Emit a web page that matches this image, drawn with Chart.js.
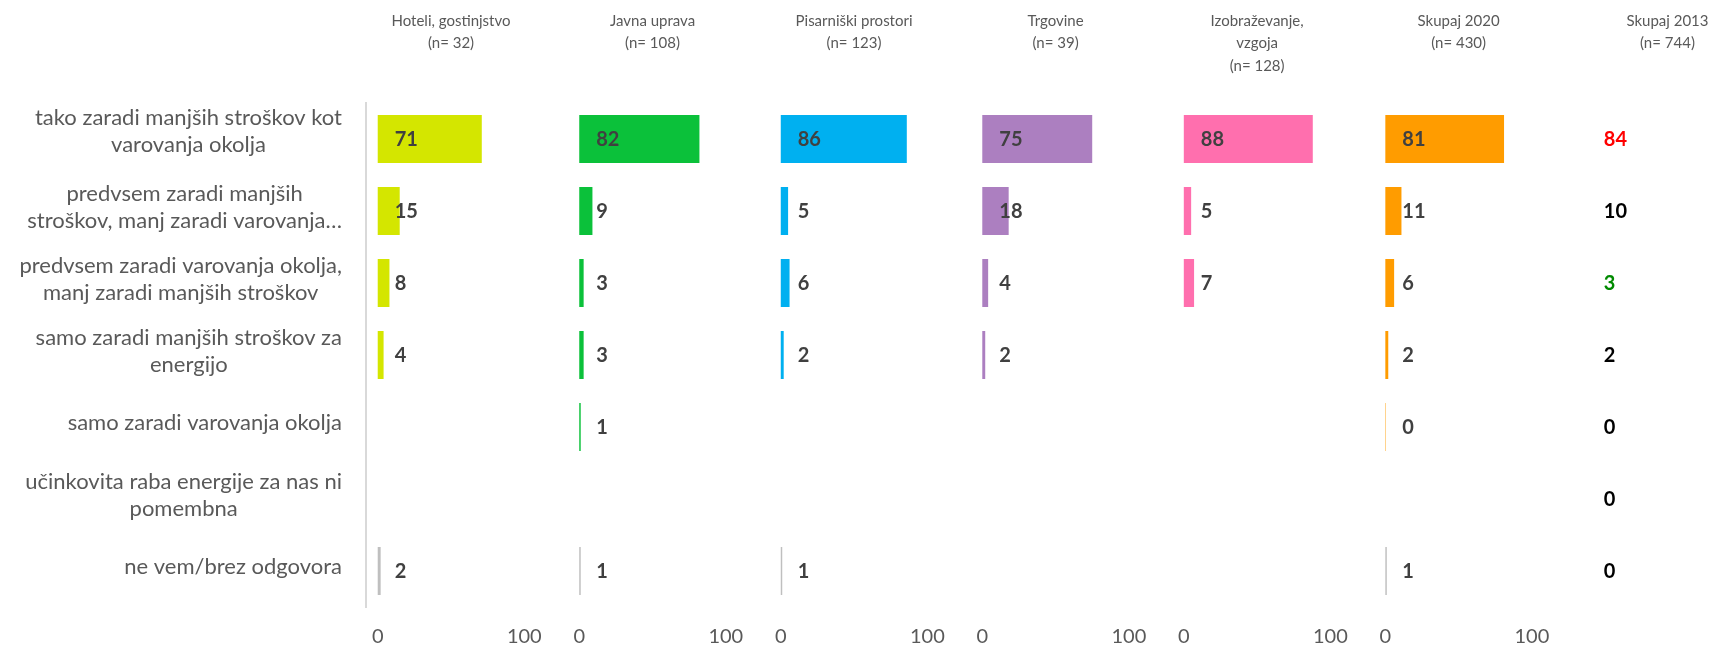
<!DOCTYPE html>
<html>
<head>
<meta charset="utf-8">
<script src="https://cdn.jsdelivr.net/npm/chart.js@4.4.0/dist/chart.umd.min.js"></script>
<style>
  html, body { margin: 0; padding: 0; background: #fff; }
  #wrap { width: 1713px; height: 647px; position: relative; }
</style>
</head>
<body>
<div id="wrap"><canvas id="chart"></canvas></div>
<script>
// categories (multi-line, as in the original)
const categories = [
    ["tako zaradi manjših stroškov kot", "varovanja okolja"],
    ["predvsem zaradi manjših", "stroškov, manj zaradi varovanja…"],
    ["predvsem zaradi varovanja okolja,", "manj zaradi manjših stroškov"],
    ["samo zaradi manjših stroškov za", "energijo"],
    ["samo zaradi varovanja okolja"],
    ["učinkovita raba energije za nas ni", "pomembna"],
    ["ne vem/brez odgovora"]
];

const panelTitles = [
    ["Hoteli, gostinjstvo", "(n= 32)"],
    ["Javna uprava", "(n= 108)"],
    ["Pisarniški prostori", "(n= 123)"],
    ["Trgovine", "(n= 39)"],
    ["Izobraževanje,", "vzgoja", "(n= 128)"],
    ["Skupaj 2020", "(n= 430)"],
    ["Skupaj 2013", "(n= 744)"]
];

// values in %
const hoteli      = [71, 15, 8, 4, null, null, 2];
const javnaUprava = [82, 9, 3, 3, 1, null, 1];
const pisarne     = [86, 5, 6, 2, null, null, 1];
const trgovine    = [75, 18, 4, 2, null, null, null];
const izobrazev   = [88, 5, 7, null, null, null, null];
const skupaj2020  = [81, 11, 6, 2, 0.3, null, 1];
const skupaj2013  = [84, 10, 3, 2, 0, 0, 0];

const tickValues = [0, 100];

// styling
const panelColors = ['#d4e600', '#0bc13a', '#00b0f0', '#ac7fc0', '#ff6fae', '#ff9c00', 'rgba(0,0,0,0)'];
const greyColor = '#bfbfbf';
const colors2013 = ['#ff0000', '#000000', '#008a00', '#000000', '#000000', '#000000', '#000000'];
const textGrey = '#595959';
const fontName = 'Lato, "Open Sans", sans-serif';

const series = [hoteli, javnaUprava, pisarne, trgovine, izobrazev, skupaj2020, skupaj2013];

const datasets = series.map((vals, p) => ({
    label: panelTitles[p][0],
    data: vals,
    xAxisID: 'x' + p,
    grouped: false,
    barPercentage: 0.667,
    categoryPercentage: 1,
    borderWidth: 0,
    backgroundColor: vals.map((v, i) => (p < 6 && i === 6) ? greyColor : panelColors[p]),
    labelColors: p === 6 ? colors2013 : null
}));

const scales = {
    y: {
        type: 'category',
        labels: categories.map(c => c.join(' ')),
        position: 'left',
        grid: { display: false, drawTicks: false },
        border: { display: true, color: '#d9d9d9', width: 2 },
        ticks: { display: false },
        afterFit: s => { s.width = 366; }
    }
};
series.forEach((vals, p) => {
    scales['x' + p] = {
        type: 'linear',
        position: 'bottom',
        stack: 'panels',
        stackWeight: p < 6 ? 203 : 129,
        min: -8,
        max: p < 6 ? 129.5 : 79.4,
        grid: { display: false, drawTicks: false },
        border: { display: false },
        ticks: {
            display: p < 6,
            autoSkip: false,
            maxRotation: 0,
            padding: 18,
            color: textGrey,
            font: { family: fontName, size: 20 }
        },
        afterBuildTicks: s => { s.ticks = tickValues.map(v => ({ value: v })); },
        afterFit: s => { s.height = 40; }
    };
});

const categoryLabels = {
    id: 'categoryLabels',
    afterDraw(chart) {
        const ctx = chart.ctx;
        const ys = chart.scales.y;
        const right = 342, lh = 27;
        ctx.save();
        ctx.font = '22px ' + fontName;
        ctx.fillStyle = textGrey;
        ctx.textAlign = 'center';
        ctx.textBaseline = 'middle';
        categories.forEach((lines, i) => {
            const w = Math.max(...lines.map(l => ctx.measureText(l).width));
            const cx = right - w / 2;
            const cy = ys.getPixelForValue(i) - (i === 0 ? 8 : 4);
            lines.forEach((l, k) => {
                ctx.fillText(l, cx, cy + (k - (lines.length - 1) / 2) * lh);
            });
        });
        ctx.restore();
    }
};

const panelHeaders = {
    id: 'panelHeaders',
    afterDraw(chart) {
        const ctx = chart.ctx;
        ctx.save();
        ctx.font = '15px ' + fontName;
        ctx.fillStyle = textGrey;
        ctx.textAlign = 'center';
        ctx.textBaseline = 'middle';
        panelTitles.forEach((lines, p) => {
            const xs = chart.scales['x' + p];
            const cx = xs.getPixelForValue(p < 6 ? 50 : 55);
            lines.forEach((l, k) => ctx.fillText(l, cx, 21 + k * 22.5));
        });
        ctx.restore();
    }
};

const valueLabels = {
    id: 'valueLabels',
    afterDatasetsDraw(chart) {
        const ctx = chart.ctx;
        ctx.save();
        ctx.font = 'bold 20px ' + fontName;
        ctx.textAlign = 'left';
        ctx.textBaseline = 'middle';
        chart.data.datasets.forEach((ds, p) => {
            const meta = chart.getDatasetMeta(p);
            const x0 = chart.scales[ds.xAxisID].getPixelForValue(0) + 17;
            meta.data.forEach((bar, i) => {
                const v = ds.data[i];
                if (v === null || v === undefined) return;
                ctx.fillStyle = ds.labelColors ? ds.labelColors[i] : '#404040';
                ctx.fillText(String(Math.round(v)), x0, bar.y + 1);
            });
        });
        ctx.restore();
    }
};

new Chart(document.getElementById('chart'), {
    type: 'bar',
    data: { labels: categories.map(c => c.join(' ')), datasets: datasets },
    options: {
        indexAxis: 'y',
        responsive: true,
        maintainAspectRatio: false,
        animation: false,
        layout: { padding: { top: 103, left: 0, right: 0, bottom: 0 } },
        plugins: {
            legend: { display: false },
            tooltip: { enabled: false }
        },
        scales: scales
    },
    plugins: [categoryLabels, panelHeaders, valueLabels]
});
</script>
</body>
</html>
